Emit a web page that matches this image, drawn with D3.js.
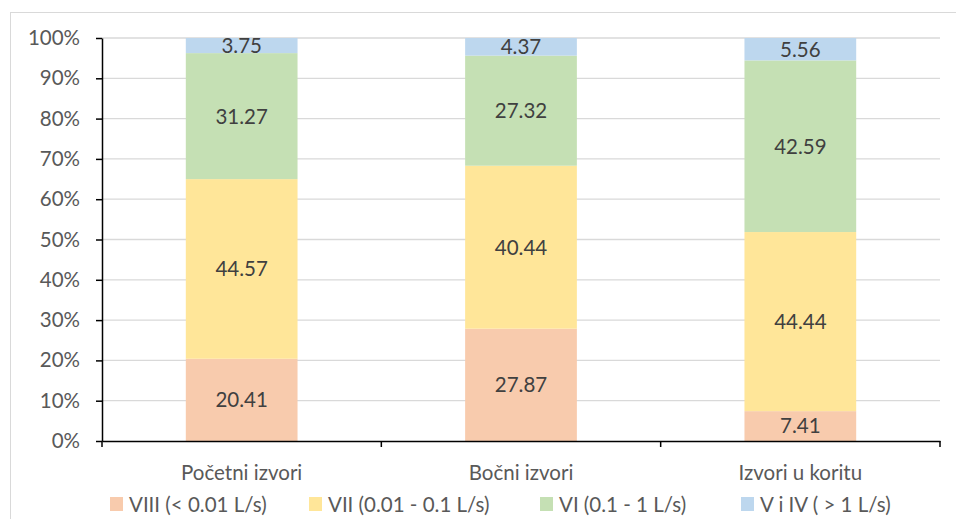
<!DOCTYPE html>
<html>
<head>
<meta charset="utf-8">
<script src="https://cdn.jsdelivr.net/npm/d3@7"></script>
<style>
  html, body { margin: 0; padding: 0; background: #fff; }
  svg { display: block; font-family: Lato, "Open Sans", sans-serif; }
</style>
</head>
<body>
<svg id="chart" width="956" height="519"></svg>
<script>
const categories = ["Početni izvori", "Bočni izvori", "Izvori u koritu"];
const seriesNames = ["VIII (< 0.01 L/s)", "VII (0.01 - 0.1 L/s)", "VI (0.1 - 1 L/s)", "V i IV ( > 1 L/s)"];
const seriesVIII = [20.41, 27.87, 7.41];
const seriesVII = [44.57, 40.44, 44.44];
const seriesVI = [31.27, 27.32, 42.59];
const seriesVIV = [3.75, 4.37, 5.56];
const seriesColors = ["#F8CBAD", "#FFE699", "#C5E0B4", "#BDD7EE"];
const yTicks = [0, 10, 20, 30, 40, 50, 60, 70, 80, 90, 100];

(function () {
const FS = 20.5;
const seriesValues = [seriesVIII, seriesVII, seriesVI, seriesVIV];
const table = categories.map((c, i) => {
  const row = { cat: c };
  seriesNames.forEach((s, j) => row[s] = seriesValues[j][i]);
  return row;
});

const svg = d3.select("#chart");
const mLeft = 102, mRight = 940, mTop = 38, mBottom = 441;

// frame
svg.append("rect").attr("x", 10.5).attr("y", 12.5).attr("width", 960).attr("height", 520)
  .attr("fill", "none").attr("stroke", "#D9D9D9").attr("stroke-width", 1);

const x = d3.scaleBand().domain(categories).range([mLeft, mRight]).paddingInner(0.6).paddingOuter(0.3);
const y = d3.scaleLinear().domain([0, 100]).range([mBottom, mTop]);

// gridlines
svg.append("g").selectAll("line").data(yTicks.filter(t => t > 0)).join("line")
  .attr("x1", mLeft).attr("x2", mRight)
  .attr("y1", d => y(d)).attr("y2", d => y(d))
  .attr("stroke", "#D9D9D9").attr("stroke-width", 1.3);

const stack = d3.stack().keys(seriesNames)(table);
const color = d3.scaleOrdinal().domain(seriesNames).range(seriesColors);

const layers = svg.append("g").selectAll("g").data(stack).join("g")
  .attr("fill", d => color(d.key));
layers.selectAll("rect").data(d => d).join("rect")
  .attr("x", d => x(d.data.cat))
  .attr("width", x.bandwidth())
  .attr("y", d => y(d[1]))
  .attr("height", d => y(d[0]) - y(d[1]));

// data labels
const labels = svg.append("g").selectAll("g").data(stack).join("g");
labels.selectAll("text").data(d => d.map(v => ({ v, key: d.key }))).join("text")
  .attr("x", d => x(d.v.data.cat) + x.bandwidth() / 2)
  .attr("y", d => (y(d.v[0]) + y(d.v[1])) / 2)
  .attr("dy", "0.36em")
  .attr("text-anchor", "middle")
  .attr("font-size", FS)
  .attr("fill", "#404040")
  .text(d => d3.format(".2f")(d.v[1] - d.v[0]));

// y axis
const yAxis = svg.append("g").attr("transform", `translate(${mLeft},0)`)
  .call(d3.axisLeft(y).tickValues(yTicks).tickFormat(d => d + "%").tickSize(6).tickSizeOuter(0));
yAxis.select(".domain").attr("stroke", "#000").attr("stroke-width", 1.5);
yAxis.selectAll(".tick line").attr("stroke", "#000").attr("stroke-width", 1.5);
yAxis.selectAll(".tick text").attr("font-size", FS).attr("fill", "#595959")
  .attr("font-family", "Lato, sans-serif").attr("x", -22);

// x axis
const xAxis = svg.append("g").attr("transform", `translate(0,${mBottom})`)
  .call(d3.axisBottom(x).tickSize(0).tickSizeOuter(0));
xAxis.select(".domain").attr("stroke", "#000").attr("stroke-width", 1.5);
xAxis.selectAll(".tick text").attr("font-size", FS).attr("fill", "#595959")
  .attr("font-family", "Lato, sans-serif").attr("dy", "0").attr("y", 39);
const step = x.step();
const bounds = [x(categories[0]) - step * 0.3].concat(categories.map(c => x(c) + x.bandwidth() + step * 0.3));
xAxis.append("g").selectAll("line").data(bounds).join("line")
  .attr("x1", d => d).attr("x2", d => d).attr("y1", 0).attr("y2", 6)
  .attr("stroke", "#000").attr("stroke-width", 1.5);

// legend
const legendX = [110, 309, 540, 741];
const legend = svg.append("g").selectAll("g").data(seriesNames).join("g")
  .attr("transform", (d, i) => `translate(${legendX[i]},497)`);
legend.append("rect").attr("width", 13).attr("height", 14).attr("fill", d => color(d));
legend.append("text").attr("x", 19).attr("y", 15).attr("font-size", FS).attr("fill", "#595959")
  .text(d => d);
})();
</script>
</body>
</html>
